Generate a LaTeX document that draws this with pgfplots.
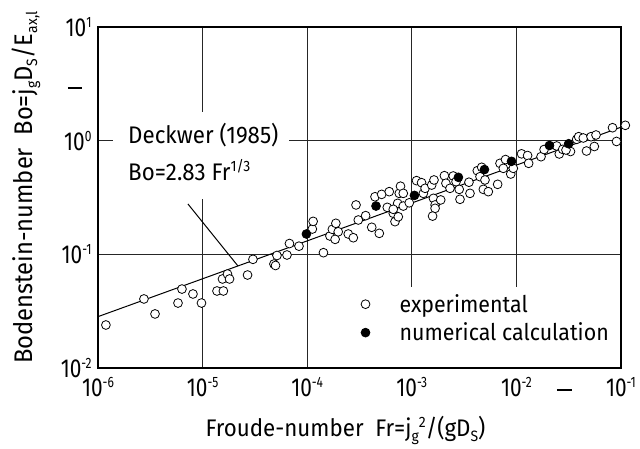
\documentclass[border=0pt]{standalone}
\usepackage{fontspec}
\setmainfont{Fira Sans}[FakeStretch=0.93]
\newfontfamily\tickfont{Fira Sans}[FakeStretch=0.8]
\usepackage{pgfplots}
\pgfplotsset{compat=1.18}
\newcommand\sups[1]{\raisebox{9pt}{\fontsize{15}{15}\selectfont #1}}
\newcommand\subs[1]{\raisebox{-5pt}{\fontsize{15}{15}\selectfont #1}}
\begin{document}
\begin{tikzpicture}[x=1pt,y=1pt]
\useasboundingbox (-98,-80) rectangle (542,368);
\begin{axis}[
  at={(0,0)}, anchor=south west,
  scale only axis, width=523pt, height=341pt,
  xmode=log, ymode=log,
  xmin=1e-6, xmax=1e-1, ymin=1e-2, ymax=1e1,
  xtick={1e-6,1e-5,1e-4,1e-3,1e-2,1e-1},
  xticklabels={10\sups{-6},10\sups{-5},10\sups{-4},10\sups{-3},10\sups{-2},10\sups{-1}},
  ytick={1e-2,1e-1,1e0,1e1},
  yticklabels={10\sups{-2},10\sups{-1},10\sups{0},10\sups{1}},
  major tick length=0pt, minor tick length=0pt,
  grid=major,
  grid style={black!85, line width=0.9pt},
  axis line style={line width=1.6pt},
  clip=false,
  font=\fontsize{24}{28}\selectfont,
  tick label style={font=\tickfont\fontsize{26}{26}\selectfont},
  xticklabel style={anchor=north, yshift=-6pt},
  yticklabel style={anchor=east, xshift=-3pt},
  xlabel={Froude-number\ \ Fr=j\subs{g}\sups{2}/(gD\subs{S})},
  ylabel={Bodenstein-number\ \ Bo=j\subs{g}D\subs{S}/E\subs{ax,l}},
  every axis x label/.style={at={(axis description cs:0.4734,-0.2023)}, anchor=base},
  every axis y label/.style={at={(axis description cs:-0.126,0.529)}, anchor=base, rotate=90, font=\fontsize{25.5}{28}\selectfont},
  legend style={at={(axis description cs:0.497,0.228)}, anchor=north west, draw=none, fill=none,
    font=\fontsize{23}{27}\selectfont, cells={anchor=west}, row sep=5pt},
  legend image code/.code={\path[draw=none,fill=none] (0pt,0pt) -- (35pt,0pt); \draw[#1] plot coordinates {(3pt,0pt)};},
]
% white areas behind text
\fill[white] (axis description cs:0.0287,0.4956) rectangle (axis description cs:0.365,0.7507);
\fill[white] (axis description cs:0.472,0.2375) rectangle ([xshift=-1pt,yshift=1pt]axis description cs:1,0);
% correlation line
\addplot[black, line width=1pt, forget plot] coordinates {(1e-6,0.0283) (0.1,1.3135)};
\draw[black, line width=1pt] (axis description cs:0.172,0.481) -- (axis description cs:0.2677,0.299);
% experimental
\addplot[only marks, mark=*, mark size=4.4pt, mark options={fill=white, draw=black, line width=0.8pt}] coordinates {
(1.19e-6,0.0239) (2.75e-6,0.0405) (3.51e-6,0.0299) (5.82e-6,0.0373) (6.35e-6,0.0495)
(8.09e-6,0.0448) (9.76e-6,0.0373) (1.373e-5,0.0476) (1.58e-5,0.0476) (1.55e-5,0.0607)
(1.73e-5,0.0671) (1.81e-5,0.0607) (2.69e-5,0.0658) (3.03e-5,0.0904) (4.81e-5,0.0822)
(4.98e-5,0.0798) (5.14e-5,0.0977) (6.41e-5,0.0987) (6.77e-5,0.1245) (8.35e-5,0.118)
(1.12e-4,0.167) (1.14e-4,0.195) (1.43e-4,0.1034) (1.65e-4,0.145) (1.74e-4,0.166)
(1.88e-4,0.1875) (1.85e-4,0.1355) (1.98e-4,0.158) (2.47e-4,0.151) (2.76e-4,0.140)
(2.93e-4,0.272) (3.08e-4,0.2005) (3.62e-4,0.219) (4.14e-4,0.173) (4.89e-4,0.153)
(4.45e-4,0.321) (5.15e-4,0.337) (6.09e-4,0.356) (5.83e-4,0.259) (6.65e-4,0.230)
(6.91e-4,0.194) (7.43e-4,0.214) (7.33e-4,0.281) (7.59e-4,0.344) (7.80e-4,0.3975)
(8.29e-4,0.344) (6.65e-4,0.249) (8.29e-4,0.266) (9.46e-4,0.284) (1.11e-3,0.445)
(1.24e-3,0.427) (1.29e-3,0.344) (1.34e-3,0.381) (1.55e-3,0.407) (1.63e-3,0.451)
(1.61e-3,0.311) (1.67e-3,0.272) (1.89e-3,0.301) (1.67e-3,0.254) (1.58e-3,0.217)
(2.05e-3,0.492) (2.12e-3,0.422) (2.32e-3,0.381) (2.49e-3,0.489) (2.84e-3,0.373)
(2.89e-3,0.305) (3.52e-3,0.431) (3.60e-3,0.344) (4.23e-3,0.544) (4.49e-3,0.482)
(5.01e-3,0.451) (4.83e-3,0.373) (5.39e-3,0.356) (2.65e-3,0.436) (6.62e-3,0.413)
(4.66e-3,0.583) (6.97e-3,0.632) (7.50e-3,0.571) (7.87e-3,0.682) (8.83e-3,0.509)
(9.34e-3,0.571) (1.12e-2,0.766) (1.28e-2,0.740) (1.31e-2,0.632) (1.72e-2,0.723)
(1.84e-2,0.836) (2.43e-2,0.898) (2.57e-2,0.764) (2.77e-2,0.839) (3.29e-2,0.803)
(3.77e-2,1.028) (3.94e-2,1.084) (2.98e-2,0.828) (4.36e-2,1.056) (4.68e-2,0.811)
(5.17e-2,1.084) (5.56e-2,0.889) (5.77e-2,1.122) (8.30e-2,1.30) (0.110,1.365)
(9.06e-2,0.984)
};
\addlegendentry{experimental}
% numerical
\addplot[only marks, mark=*, mark size=4.4pt, mark options={fill=black, draw=black, line width=0.8pt}] coordinates {
(9.83e-5,0.151) (4.55e-4,0.266) (1.06e-3,0.330) (2.79e-3,0.476)
(4.95e-3,0.557) (8.98e-3,0.658) (2.07e-2,0.907) (3.16e-2,0.940)
};
\addlegendentry{numerical calculation}
% annotation text
\node[anchor=base west, inner sep=0pt] at (axis description cs:0.0574,0.6598) {Deckwer (1985)};
\node[anchor=base west, inner sep=0pt] at (axis description cs:0.0574,0.5513) {Bo=2.83 Fr\sups{1/3}};
% stray dashes of the original
\draw[line width=2.2pt] (axis description cs:-0.0574,0.821) -- (axis description cs:-0.0306,0.821);
\draw[line width=2.2pt] (axis description cs:0.8776,-0.0645) -- (axis description cs:0.9063,-0.0645);
\end{axis}
\end{tikzpicture}
\end{document}
